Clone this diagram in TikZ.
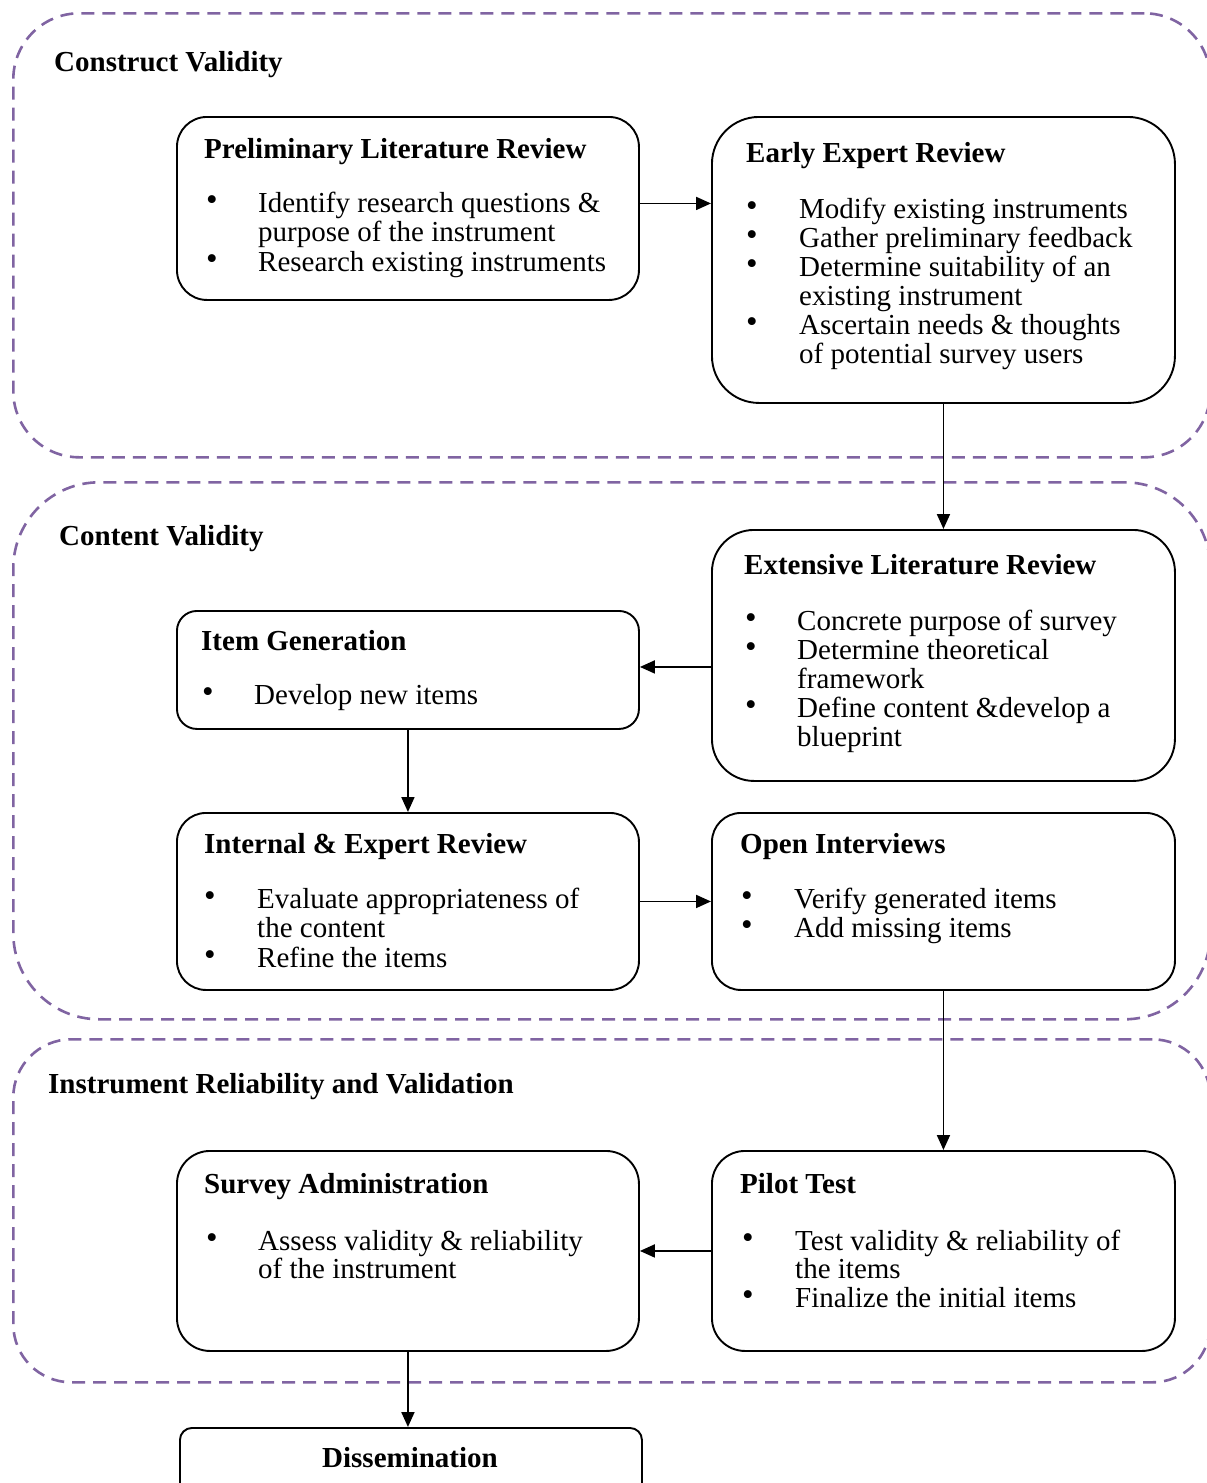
\documentclass[tikz,border=0pt]{standalone}
\usepackage{fontspec}
\setmainfont{Liberation Serif}
\usetikzlibrary{arrows.meta}
\definecolor{regionpurple}{HTML}{8064A2}
\tikzset{
  region/.style={draw=regionpurple, line width=2.6pt, dash pattern=on 13pt off 8pt, rectangle, inner sep=0pt, anchor=north west},
  box/.style={draw=black, line width=1.9pt, rectangle, inner sep=0pt, anchor=north west},
  txt/.style={font=\fontsize{29}{30}\selectfont, anchor=base west, inner sep=0pt},
  ttl/.style={txt, font=\fontsize{29}{30}\selectfont\bfseries},
  bul/.style={font=\fontsize{33}{33}\selectfont, anchor=base, inner sep=0pt},
  arr/.style={draw=black, line width=1.9pt, -{Triangle[length=15pt,width=13pt]}}
}
\newcommand\Ln[4]{\node[txt] (#1) at (#2,#3) {#4};}
\newcommand\Bt[3]{\node[bul] (#1) at (#2,#3-2) {•};}
\begin{document}
\begin{tikzpicture}[x=1pt,y=-1pt]
\useasboundingbox (0,0) rectangle (1207,1483);
% regions
\node[region, rounded corners=66pt, minimum width=1197pt, minimum height=444pt] (r1) at (12,12) {};
\node[region, rounded corners=86pt, minimum width=1197pt, minimum height=537pt] (r2) at (12,481) {};
\node[region, rounded corners=58pt, minimum width=1197pt, minimum height=343pt] (r3) at (12,1038) {};
\node[ttl] (t1) at (54,71) {Construct Validity};
\node[ttl] (t2) at (59,545) {Content Validity};
\node[ttl] (t3) at (48,1093) {Instrument Reliability and Validation};
% boxes
\node[box, rounded corners=30pt, minimum width=462pt, minimum height=183pt] (prelim) at (176,116) {};
\node[box, rounded corners=47pt, minimum width=463pt, minimum height=286pt] (early) at (711,116) {};
\node[box, rounded corners=42pt, minimum width=463pt, minimum height=251pt] (ext) at (711,529) {};
\node[box, rounded corners=20pt, minimum width=462pt, minimum height=118pt] (item) at (176,610) {};
\node[box, rounded corners=29pt, minimum width=462pt, minimum height=177pt] (intl) at (176,812) {};
\node[box, rounded corners=29pt, minimum width=463pt, minimum height=177pt] (open) at (711,812) {};
\node[box, rounded corners=33pt, minimum width=462pt, minimum height=200pt] (surv) at (176,1150) {};
\node[box, rounded corners=33pt, minimum width=463pt, minimum height=200pt] (pilot) at (711,1150) {};
\node[box, rounded corners=12pt, minimum width=462pt, minimum height=75pt] (diss) at (179,1427) {};
% Preliminary Literature Review
\node[ttl] (prelimT) at (204,158) {Preliminary Literature Review};
\Bt{pb1}{212}{212}\Ln{pl1}{258}{212}{Identify research questions \&}
\Ln{pl2}{258}{241}{purpose of the instrument}
\Bt{pb2}{212}{271}\Ln{pl3}{258}{271}{Research existing instruments}
% Early Expert Review
\node[ttl] (earlyT) at (746,162) {Early Expert Review};
\Bt{eb1}{752}{218}\Ln{el1}{799}{218}{Modify existing instruments}
\Bt{eb2}{752}{247}\Ln{el2}{799}{247}{Gather preliminary feedback}
\Bt{eb3}{752}{276}\Ln{el3}{799}{276}{Determine suitability of an}
\Ln{el4}{799}{305}{existing instrument}
\Bt{eb4}{752}{334}\Ln{el5}{799}{334}{Ascertain needs \& thoughts}
\Ln{el6}{799}{363}{of potential survey users}
% Extensive Literature Review
\node[ttl] (extT) at (744,574) {Extensive Literature Review};
\Bt{xb1}{751}{630}\Ln{xl1}{797}{630}{Concrete purpose of survey}
\Bt{xb2}{751}{659}\Ln{xl2}{797}{659}{Determine theoretical}
\Ln{xl3}{797}{688}{framework}
\Bt{xb3}{751}{717}\Ln{xl4}{797}{717}{Define content \&develop a}
\Ln{xl5}{797}{746}{blueprint}
% Item Generation
\node[ttl] (itemT) at (201,650) {Item Generation};
\Bt{ib1}{208}{704}\Ln{il1}{254}{704}{Develop new items}
% Internal & Expert Review
\node[ttl] (intlT) at (204,853) {Internal \& Expert Review};
\Bt{nb1}{210}{908}\Ln{nl1}{257}{908}{Evaluate appropriateness of}
\Ln{nl2}{257}{937}{the content}
\Bt{nb2}{210}{967}\Ln{nl3}{257}{967}{Refine the items}
% Open Interviews
\node[ttl] (openT) at (740,853) {Open Interviews};
\Bt{ob1}{747}{908}\Ln{ol1}{794}{908}{Verify generated items}
\Bt{ob2}{747}{937}\Ln{ol2}{794}{937}{Add missing items}
% Survey Administration
\node[ttl] (survT) at (204,1193) {Survey Administration};
\Bt{sb1}{212}{1250}\Ln{sl1}{258}{1250}{Assess validity \& reliability}
\Ln{sl2}{258}{1278}{of the instrument}
% Pilot Test
\node[ttl] (pilotT) at (740,1193) {Pilot Test};
\Bt{tb1}{748}{1250}\Ln{tl1}{795}{1250}{Test validity \& reliability of}
\Ln{tl2}{795}{1278}{the items}
\Bt{tb2}{748}{1307}\Ln{tl3}{795}{1307}{Finalize the initial items}
% Dissemination
\node[ttl, anchor=base] (dissT) at (410,1467) {Dissemination};
% connectors
\coordinate (c1) at ([yshift=5pt]prelim.east);
\coordinate (c2) at ([yshift=3pt]ext.west |- item.east);
\draw[arr] (c1) -- (c1 -| early.west);
\draw[arr] (early.south) -- (ext.north);
\draw[arr] (c2) -- (c2 -| item.east);
\draw[arr] (item.south) -- (intl.north);
\draw[arr] (intl.east) -- (open.west);
\draw[arr] (open.south) -- (pilot.north);
\draw[arr] (pilot.west) -- (surv.east);
\draw[arr] (surv.south) -- (surv.south |- diss.north);
\end{tikzpicture}
\end{document}
